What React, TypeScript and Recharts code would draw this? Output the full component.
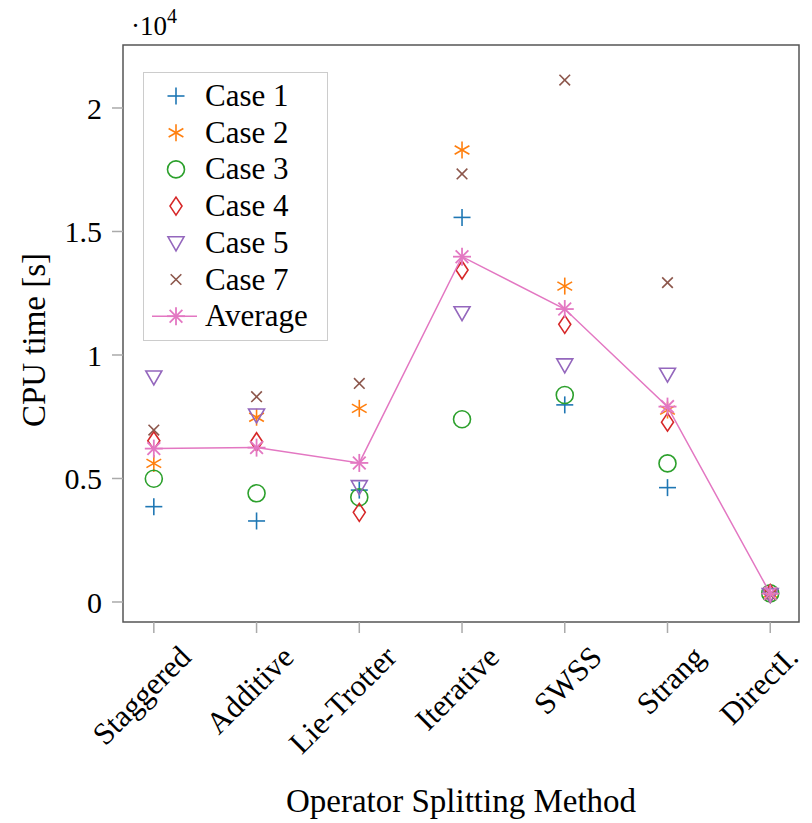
import React from "react";
import { ScatterChart, Scatter, XAxis, YAxis, ReferenceArea, Legend } from "recharts";

const FONT = '"Liberation Serif", "Times New Roman", serif';

// x categories
const methods = ["Staggered", "Additive", "Lie-Trotter", "Iterative", "SWSS", "Strang", "DirectI."];

// CPU time [s] (axis is scaled by 10^4)
const case1 = [3860, 3280, 4530, 15570, 7980, 4630, 350];
const case2 = [5610, 7480, 7840, 18300, 12790, 7770, 350];
const case3 = [4990, 4400, 4240, 7400, 8380, 5610, 350];
const case4 = [6530, 6490, 3630, 13440, 11240, 7280, 350];
const case5 = [9110, 7570, 4670, 11710, 9600, 9220, 300];
const case7 = [6960, 8310, 8850, 17330, 21130, 12930, 300];
const average = [6210, 6250, 5630, 13980, 11860, 7910, 340];

const yTicks = [0, 5000, 10000, 15000, 20000];
const xTicks = [0, 1, 2, 3, 4, 5, 6];

type MarkerKind = "plus" | "asterisk" | "circle" | "diamond" | "triangle" | "cross" | "star";

const seriesList: { name: string; values: number[]; color: string; marker: MarkerKind }[] = [
  { name: "Case 1", values: case1, color: "#1f77b4", marker: "plus" },
  { name: "Case 2", values: case2, color: "#ff7f0e", marker: "asterisk" },
  { name: "Case 3", values: case3, color: "#2ca02c", marker: "circle" },
  { name: "Case 4", values: case4, color: "#d62728", marker: "diamond" },
  { name: "Case 5", values: case5, color: "#9467bd", marker: "triangle" },
  { name: "Case 7", values: case7, color: "#8c564b", marker: "cross" },
];
const AVG_COLOR = "#e377c2";

const toPoints = (values: number[]) => values.map((y, i) => ({ x: i, y }));

// arms through the centre at the given angles (degrees)
const arms = (cx: number, cy: number, r: number, angles: number[]) =>
  angles.map((a) => {
    const dx = r * Math.cos((a * Math.PI) / 180);
    const dy = r * Math.sin((a * Math.PI) / 180);
    return <line key={a} x1={cx - dx} y1={cy - dy} x2={cx + dx} y2={cy + dy} />;
  });

function Marker({ kind, cx, cy, color }: { kind: MarkerKind; cx: number; cy: number; color: string }) {
  const sw = 1.6;
  switch (kind) {
    case "plus":
      return <g stroke={color} strokeWidth={sw}>{arms(cx, cy, 8.5, [0, 90])}</g>;
    case "asterisk":
      return <g stroke={color} strokeWidth={sw}>{arms(cx, cy, 8.5, [90, 30, 150])}</g>;
    case "circle":
      return <circle cx={cx} cy={cy} r={8.5} fill="none" stroke={color} strokeWidth={sw} />;
    case "diamond":
      return (
        <path
          d={`M${cx},${cy - 9}L${cx + 6},${cy}L${cx},${cy + 9}L${cx - 6},${cy}Z`}
          fill="none"
          stroke={color}
          strokeWidth={sw}
        />
      );
    case "triangle":
      return (
        <path
          d={`M${cx - 8},${cy - 6}L${cx + 8},${cy - 6}L${cx},${cy + 8}Z`}
          fill="none"
          stroke={color}
          strokeWidth={sw}
        />
      );
    case "cross":
      return <g stroke={color} strokeWidth={sw}>{arms(cx, cy, 7.5, [45, 135])}</g>;
    case "star":
    default:
      return <g stroke={color} strokeWidth={1.8}>{arms(cx, cy, 9, [0, 45, 90, 135])}</g>;
  }
}

const shapeFor = (kind: MarkerKind, color: string) => (props: any) =>
  <Marker kind={kind} cx={props.cx} cy={props.cy} color={color} />;

const MethodTick = (props: any) => {
  const { x, y, payload } = props;
  // keep the last label inside the picture
  const ax = Math.min(x + 39, 800);
  const ay = y + 24;
  return (
    <text
      x={ax}
      y={ay}
      transform={`rotate(-45 ${ax} ${ay})`}
      textAnchor="end"
      fontFamily={FONT}
      fontSize={31}
      fill="#000"
    >
      {methods[payload.value]}
    </text>
  );
};

const XTitle = () => (
  <text x={461} y={812} textAnchor="middle" fontFamily={FONT} fontSize={33} fill="#000">
    Operator Splitting Method
  </text>
);

const YTitle = () => (
  <g fontFamily={FONT} fill="#000">
    <text x={45} y={340} transform="rotate(-90 45 340)" textAnchor="middle" fontSize={33}>
      CPU time [s]
    </text>
    <text x={131} y={35} fontSize={27}>
      ·10<tspan dy={-12} fontSize={20}>4</tspan>
    </text>
  </g>
);

const LegendBox = () => {
  const rows = [...seriesList.map((s) => ({ name: s.name, color: s.color, marker: s.marker })),
    { name: "Average", color: AVG_COLOR, marker: "star" as MarkerKind }];
  return (
    <svg width={186} height={270} style={{ display: "block" }}>
      <rect x={0.5} y={0.5} width={184} height={268} fill="#fff" stroke="#cccccc" />
      {rows.map((r, i) => {
        const cy = 24 + i * 36.7;
        return (
          <g key={r.name}>
            {r.name === "Average" && <line x1={9} y1={cy} x2={54} y2={cy} stroke={AVG_COLOR} strokeWidth={1.5} />}
            <Marker kind={r.marker} cx={33} cy={cy} color={r.color} />
            <text x={62} y={cy + 10} fontFamily={FONT} fontSize={31} fill="#000">
              {r.name}
            </text>
          </g>
        );
      })}
    </svg>
  );
};

export default function App() {
  return (
    <div style={{ position: "absolute", left: 0, top: 0, width: 812, height: 823, background: "#fff" }}>
      <ScatterChart width={812} height={823} margin={{ top: 45, right: 13, left: 0, bottom: 0 }}>
        <XAxis
          type="number"
          dataKey="x"
          domain={[-0.3, 6.28]}
          ticks={xTicks}
          interval={0}
          axisLine={false}
          tickSize={11}
          tickLine={{ stroke: "#aaaaaa", strokeWidth: 1.5 }}
          tick={<MethodTick />}
          height={201}
          label={<XTitle />}
        />
        <YAxis
          type="number"
          dataKey="y"
          domain={[-810, 22550]}
          ticks={yTicks}
          interval={0}
          axisLine={false}
          tickSize={11}
          tickMargin={10}
          tickLine={{ stroke: "#aaaaaa", strokeWidth: 1.5 }}
          tick={{ fontFamily: FONT, fontSize: 30, fill: "#000" }}
          tickFormatter={(v: number) => String(v / 10000)}
          width={123}
          label={<YTitle />}
        />
        <ReferenceArea
          x1={-0.3}
          x2={6.28}
          y1={-810}
          y2={22550}
          fill="none"
          stroke="#555555"
          strokeWidth={1.5}
          ifOverflow="visible"
        />
        {seriesList.map((s) => (
          <Scatter
            key={s.name}
            name={s.name}
            data={toPoints(s.values)}
            fill={s.color}
            shape={shapeFor(s.marker, s.color)}
            isAnimationActive={false}
          />
        ))}
        <Scatter
          name="Average"
          data={toPoints(average)}
          fill={AVG_COLOR}
          line={{ stroke: AVG_COLOR, strokeWidth: 1.5 }}
          lineType="joint"
          shape={shapeFor("star", AVG_COLOR)}
          isAnimationActive={false}
        />
        <Legend
          layout="horizontal"
          verticalAlign="middle"
          align="center"
          wrapperStyle={{ left: 143, top: 72, width: 186, height: 270 }}
          content={() => <LegendBox />}
        />
      </ScatterChart>
    </div>
  );
}
